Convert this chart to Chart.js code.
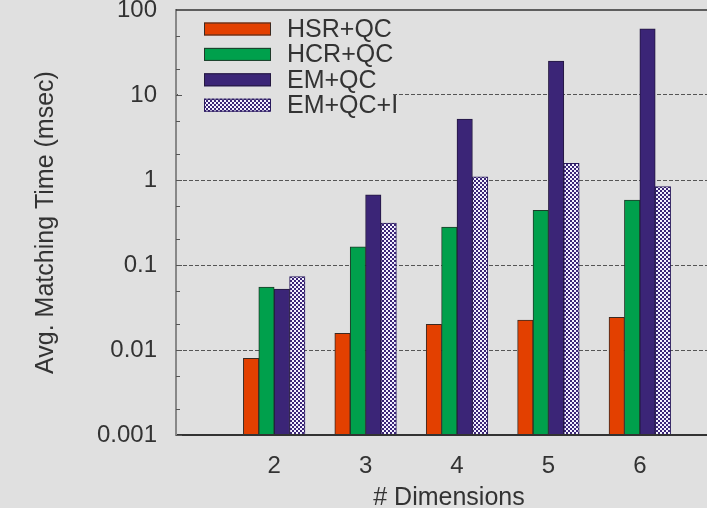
<!DOCTYPE html>
<html>
<head>
<meta charset="utf-8">
<script src="https://cdn.jsdelivr.net/npm/chart.js@4.4.1/dist/chart.umd.min.js"></script>
<style>
  html, body { margin: 0; padding: 0; background: #e0e0e0; overflow: hidden; }
  body { width: 707px; height: 508px; }
  #wrap { width: 722px; height: 508px; }
</style>
</head>
<body>
<div id="wrap"><canvas id="chart" width="722" height="508"></canvas></div>
<script>
// data (log scale)
const dims = [2, 3, 4, 5, 6];
const hsrQc = [0.0080, 0.0157, 0.020, 0.0225, 0.0242];
const hcrQc = [0.055, 0.164, 0.28, 0.44, 0.58];
const emQc = [0.052, 0.667, 5.2, 25, 60];
const emQcI = [0.073, 0.312, 1.09, 1.57, 0.835];

const yTicks = [0.001, 0.01, 0.1, 1, 10, 100];
const yTickLabels = ["0.001", "0.01", "0.1", "1", "10", "100"];

const FONT = "'Liberation Sans', Arial, Helvetica, sans-serif";
const TEXT = "#333";

function hatch() {
  const c = document.createElement("canvas");
  c.width = 4;
  c.height = 4;
  const g = c.getContext("2d");
  g.fillStyle = "#3b2577";
  g.fillRect(0, 0, 4, 4);
  g.fillStyle = "#f4f2ff";
  g.fillRect(0, 0, 2, 2);
  g.fillRect(2, 2, 2, 2);
  return g.createPattern(c, "repeat");
}

function pts(vals) {
  return dims.map((d, i) => ({ x: d, y: vals[i] }));
}

function noPad(s) {
  s.paddingTop = 0;
  s.paddingBottom = 0;
  s.paddingLeft = 0;
  s.paddingRight = 0;
}

// top frame line + inner ticks on the y axis
const frame = {
  id: "frame",
  afterDraw(chart) {
    const { ctx, chartArea: a } = chart;
    const y = chart.scales.y;
    ctx.save();
    ctx.strokeStyle = "#333";
    ctx.lineWidth = 1.5;
    ctx.beginPath();
    ctx.moveTo(a.left, a.top);
    ctx.lineTo(a.right, a.top);
    ctx.stroke();
    ctx.strokeStyle = "#555";
    ctx.lineWidth = 1;
    yTicks.slice(0, -1).forEach((d) => {
      [2, 5].forEach((m) => {
        const py = Math.round(y.getPixelForValue(d * m)) + 0.5;
        ctx.beginPath();
        ctx.moveTo(a.left, py);
        ctx.lineTo(a.left + 4, py);
        ctx.stroke();
      });
      const py = Math.round(y.getPixelForValue(d)) + 0.5;
      ctx.beginPath();
      ctx.moveTo(a.left, py);
      ctx.lineTo(a.left + 6, py);
      ctx.stroke();
    });
    ctx.restore();
  },
};

// legend inside the plot, top left
const boxLegend = {
  id: "boxLegend",
  afterDatasetsDraw(chart) {
    const { ctx, chartArea: a } = chart;
    ctx.save();
    ctx.fillStyle = "#e0e0e0";
    ctx.fillRect(a.left + 2, a.top + 2, 214, 106);
    ctx.font = "25px " + FONT;
    ctx.textBaseline = "middle";
    ctx.textAlign = "left";
    chart.data.datasets.forEach((ds, i) => {
      const cy = a.top + 19 + i * 25.4;
      const x0 = a.left + 28;
      ctx.fillStyle = ds.backgroundColor;
      ctx.fillRect(x0, cy - 6.5, 67, 13);
      ctx.strokeStyle = ds.borderColor;
      ctx.lineWidth = 1;
      ctx.strokeRect(x0 + 0.5, cy - 6.5 + 0.5, 66, 12);
      ctx.fillStyle = TEXT;
      ctx.fillText(ds.label, a.left + 111, cy + 1);
    });
    ctx.restore();
  },
};

const ctx = document.getElementById("chart");
new Chart(ctx, {
  type: "bar",
  data: {
    datasets: [
      { label: "HSR+QC", data: pts(hsrQc), backgroundColor: "#e34000", borderColor: "#3a2a22" },
      { label: "HCR+QC", data: pts(hcrQc), backgroundColor: "#00a04c", borderColor: "#1f3a2a" },
      { label: "EM+QC", data: pts(emQc), backgroundColor: "#3b2577", borderColor: "#24183f" },
      { label: "EM+QC+I", data: pts(emQcI), backgroundColor: hatch(), borderColor: "#2a1a5e" },
    ],
  },
  options: {
    responsive: false,
    animation: false,
    layout: { padding: { top: 10, left: 0, right: 0, bottom: 0 } },
    datasets: {
      bar: { barThickness: 15.4, borderWidth: 1, borderSkipped: "start" },
    },
    plugins: { legend: { display: false }, tooltip: { enabled: false } },
    scales: {
      x: {
        type: "linear",
        offset: false,
        min: 0.926,
        max: 6.899,
        afterBuildTicks: (s) => {
          s.ticks = dims.map((v) => ({ value: v }));
        },
        afterFit: (s) => {
          s.height = 73;
          noPad(s);
        },
        ticks: {
          callback: (v) => String(v),
          padding: 17,
          color: TEXT,
          font: { family: FONT, size: 24 },
        },
        grid: { display: false, drawTicks: false, offset: false },
        border: { color: "#333", width: 2, z: 1 },
        title: {
          display: true,
          text: "# Dimensions",
          color: TEXT,
          font: { family: FONT, size: 25, lineHeight: 1 },
          padding: { top: 0, bottom: -3 },
        },
      },
      y: {
        type: "logarithmic",
        min: 0.001,
        max: 100,
        afterBuildTicks: (s) => {
          s.ticks = yTicks.map((v) => ({ value: v }));
        },
        afterFit: (s) => {
          s.width = 176;
          noPad(s);
        },
        ticks: {
          callback: (v, i) => yTickLabels[i],
          padding: 19,
          color: TEXT,
          font: { family: FONT, size: 24 },
        },
        grid: {
          drawTicks: false,
          lineWidth: 1,
          color: (c) =>
            c.tick && (c.tick.value === 100 || c.tick.value === 0.001) ? "transparent" : "#555",
        },
        border: { color: "#888", width: 2, dash: [4, 2], z: 1 },
        title: {
          display: true,
          text: "Avg. Matching Time (msec)",
          color: TEXT,
          font: { family: FONT, size: 25, lineHeight: 1.2 },
          padding: { top: 31, bottom: 0 },
        },
      },
    },
  },
  plugins: [frame, boxLegend],
});
</script>
</body>
</html>
